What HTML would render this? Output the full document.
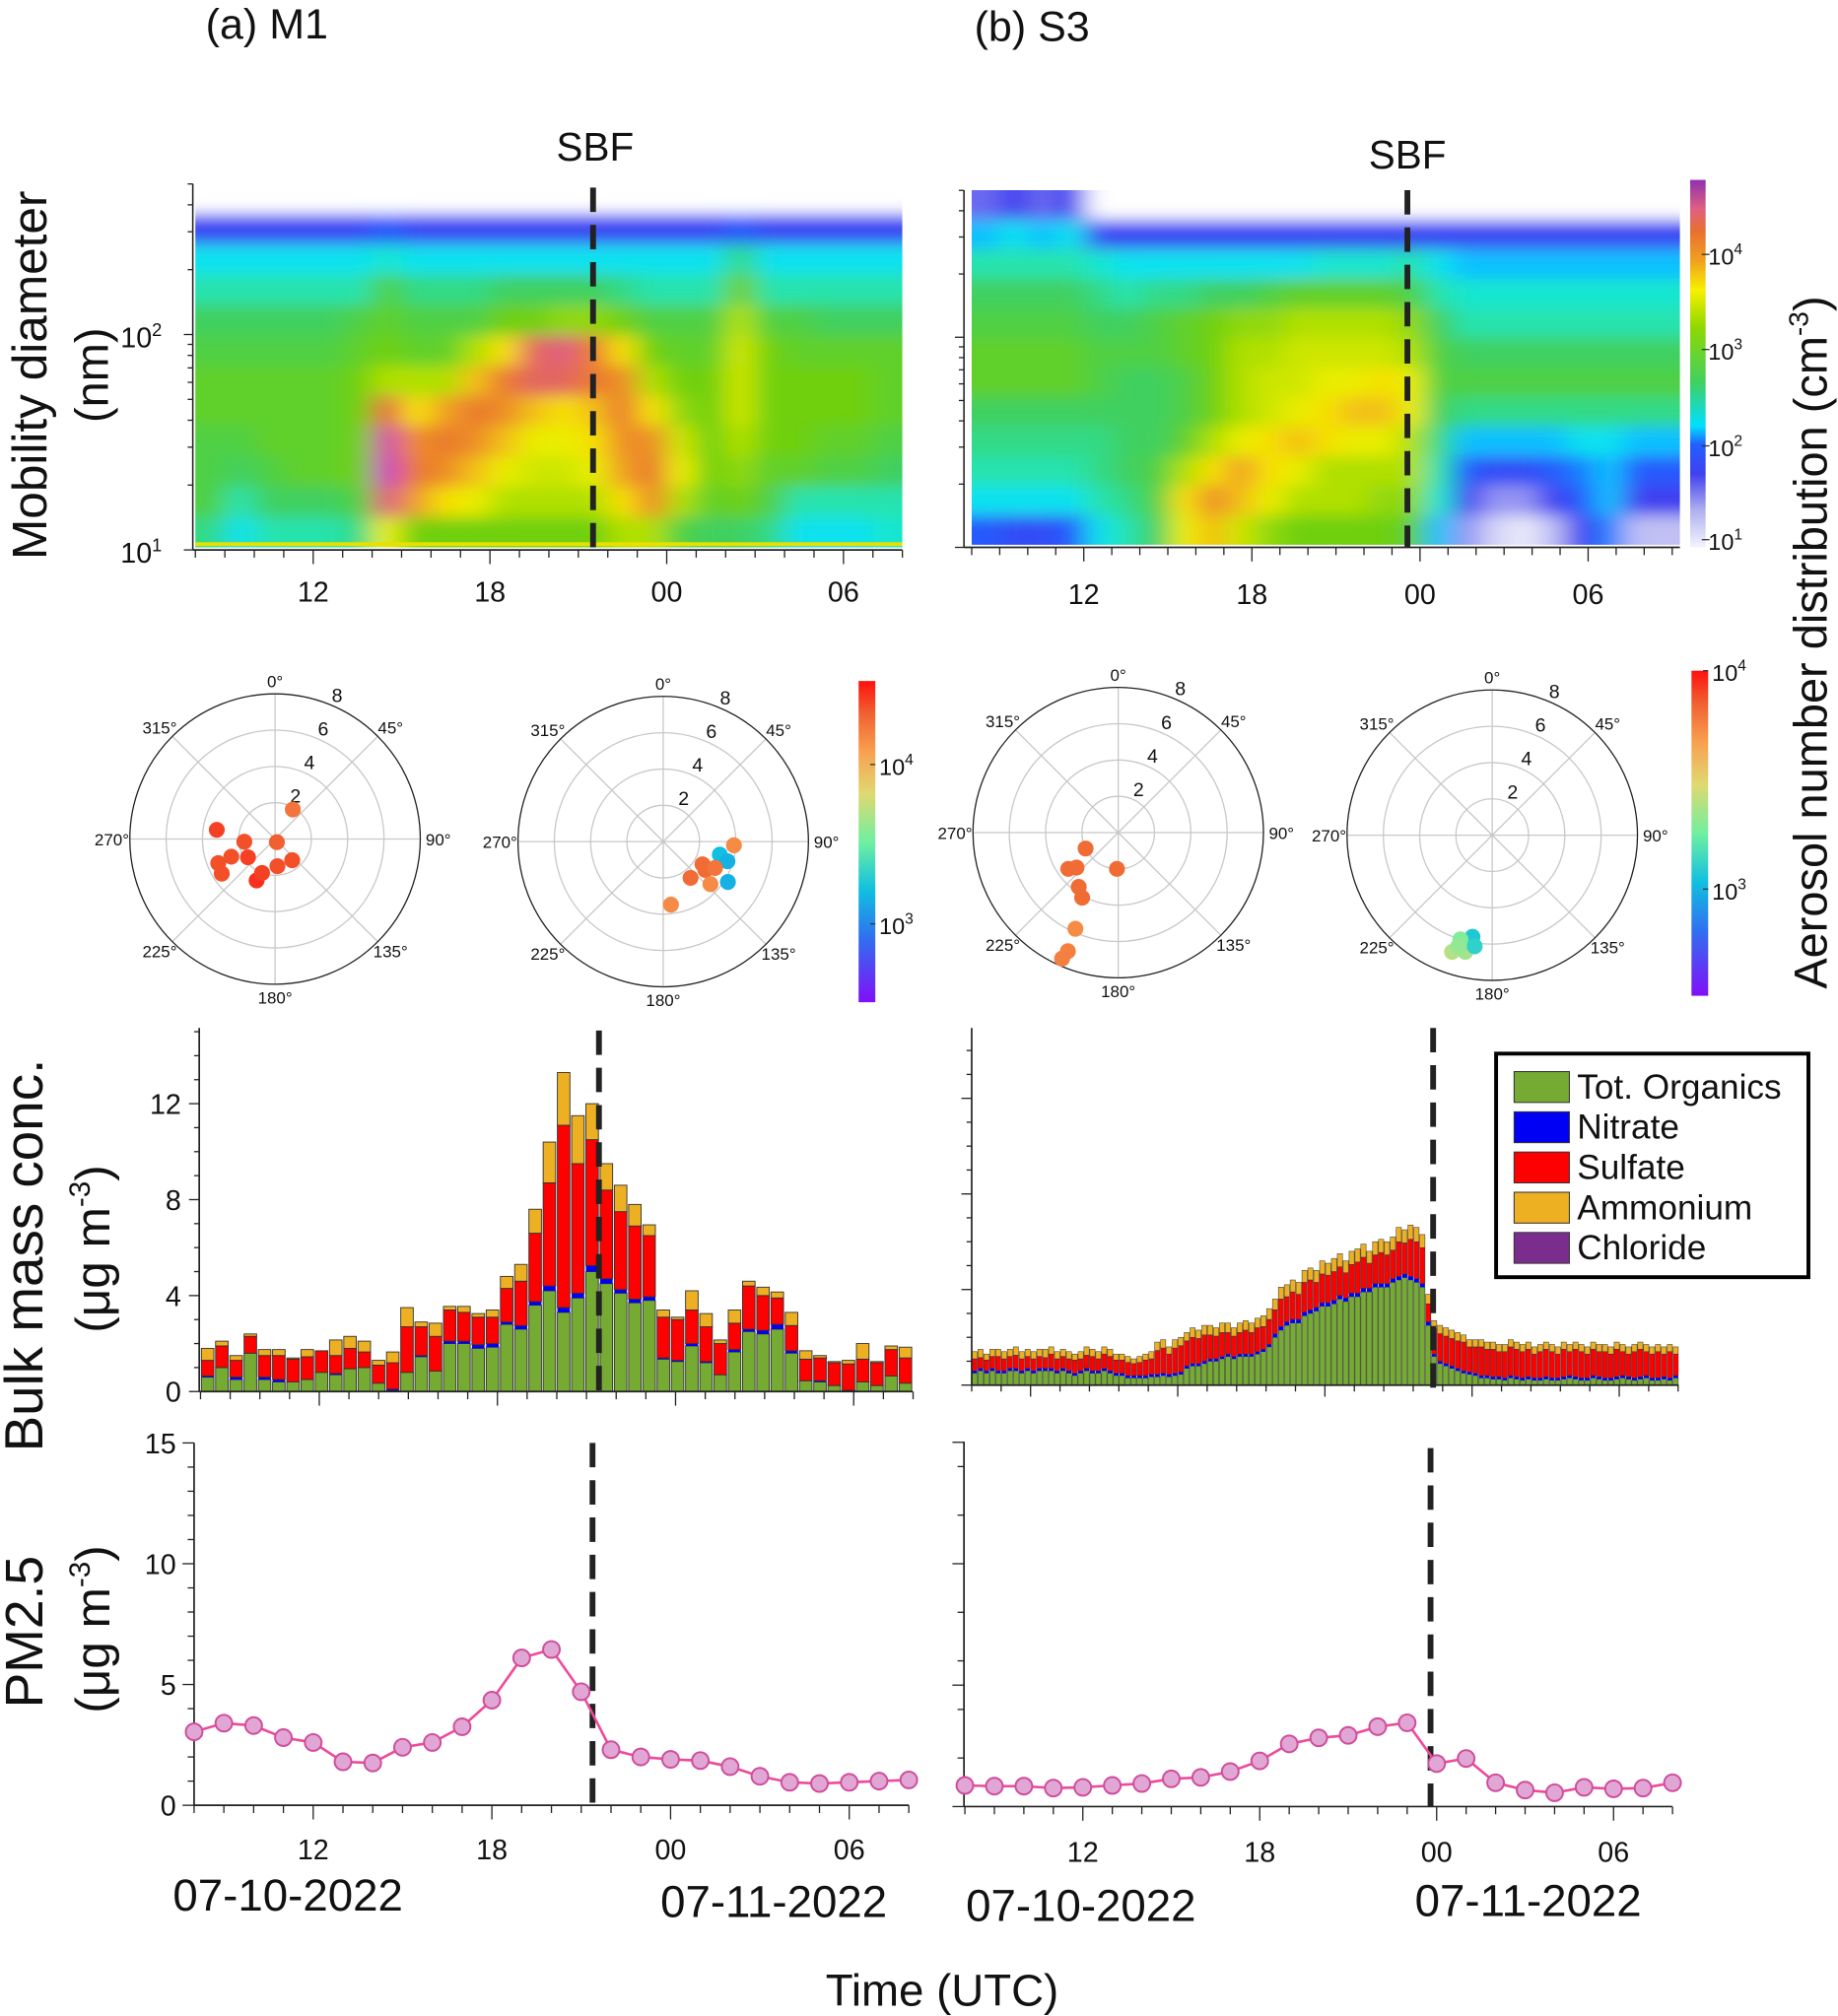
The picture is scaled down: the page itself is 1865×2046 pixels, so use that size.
<!DOCTYPE html>
<html><head><meta charset="utf-8">
<style>
html,body{margin:0;padding:0;background:#fff;}
svg{display:block;font-family:"Liberation Sans",sans-serif;}
</style></head>
<body>
<svg id="fig" width="1865" height="2046" viewBox="0 0 1430 1569" preserveAspectRatio="none" xmlns="http://www.w3.org/2000/svg">
<defs>
<filter id="blur" x="-5%" y="-5%" width="110%" height="110%"><feGaussianBlur stdDeviation="10 6"/></filter>
<clipPath id="clipA"><rect x="152" y="143" width="550" height="283"/></clipPath>
<clipPath id="clipB"><rect x="756" y="148" width="551" height="276"/></clipPath>
<linearGradient id="cbarSize" x1="0" y1="1" x2="0" y2="0">
<stop offset="0" stop-color="#f4f4ff"/><stop offset="0.1" stop-color="#b0b0f0"/><stop offset="0.2" stop-color="#4040f0"/><stop offset="0.28" stop-color="#2060ff"/><stop offset="0.33" stop-color="#00e0ff"/><stop offset="0.45" stop-color="#40d060"/><stop offset="0.6" stop-color="#90d800"/><stop offset="0.7" stop-color="#f8f000"/><stop offset="0.78" stop-color="#f0a020"/><stop offset="0.86" stop-color="#e87030"/><stop offset="0.92" stop-color="#e06080"/><stop offset="1" stop-color="#9030b0"/>
</linearGradient>
<linearGradient id="cbarRain" x1="0" y1="1" x2="0" y2="0">
<stop offset="0" stop-color="#8010f8"/><stop offset="0.2" stop-color="#3070f0"/><stop offset="0.35" stop-color="#10c0e0"/><stop offset="0.5" stop-color="#70f0a0"/><stop offset="0.65" stop-color="#e0d870"/><stop offset="0.78" stop-color="#f8a050"/><stop offset="0.9" stop-color="#f06030"/><stop offset="1" stop-color="#ff1010"/>
</linearGradient>
</defs>
<g id="root"></g>
</svg>
<script>
// ---------------- DATA ----------------
const heatA = [
[1.0,1.0,1.0,1.0,1.0,1.0,1.0,1.0,1.0,1.0,1.0,1.0,1.0,1.0,1.0,1.0,1.0,1.0,1.0,1.0,1.0,1.0,1.0,1.0],
[1.65,1.65,1.65,1.65,1.65,1.65,1.8,1.65,1.65,1.65,1.65,1.65,1.65,1.65,1.65,1.65,1.65,1.65,1.8,1.65,1.65,1.65,1.65,1.65],
[2.1,2.1,2.1,2.1,2.1,2.1,2.2,2.1,2.1,2.1,2.1,2.1,2.1,2.1,2.1,2.1,2.1,2.1,2.4,2.1,2.1,2.1,2.1,2.1],
[2.3,2.3,2.3,2.3,2.3,2.3,2.6,2.4,2.4,2.4,2.5,2.5,2.5,2.5,2.4,2.3,2.3,2.3,2.8,2.3,2.3,2.3,2.3,2.3],
[2.5,2.5,2.5,2.5,2.5,2.6,2.7,2.6,2.6,2.6,2.8,2.8,2.9,2.9,2.8,2.6,2.6,2.6,3.0,2.6,2.6,2.5,2.5,2.5],
[2.6,2.6,2.6,2.6,2.6,2.7,2.8,2.7,2.7,3.0,3.3,3.9,4.0,3.7,3.3,2.8,2.7,2.7,3.1,2.8,2.7,2.7,2.7,2.7],
[2.7,2.7,2.7,2.7,2.7,2.8,3.0,3.0,3.0,3.4,3.7,3.9,3.9,3.7,3.6,3.0,2.8,2.8,3.1,2.8,2.8,2.8,2.8,2.7],
[2.7,2.7,2.7,2.7,2.7,2.8,3.8,3.3,3.5,3.7,3.6,3.4,3.3,3.4,3.7,3.3,2.9,2.8,3.1,2.8,2.8,2.8,2.8,2.7],
[2.6,2.6,2.7,2.7,2.7,2.8,4.2,3.6,3.7,3.6,3.4,3.2,3.2,3.3,3.6,3.6,3.1,2.8,3.0,2.8,2.8,2.7,2.7,2.6],
[2.6,2.5,2.6,2.7,2.7,2.8,4.3,3.7,3.6,3.4,3.2,3.1,3.1,3.2,3.5,3.7,3.2,2.8,2.9,2.7,2.7,2.6,2.6,2.5],
[2.6,2.3,2.5,2.5,2.5,2.6,4.0,3.5,3.3,3.2,3.0,3.0,3.0,3.0,3.3,3.6,3.0,2.7,2.8,2.6,2.3,2.3,2.3,2.3],
[2.4,2.1,2.3,2.3,2.3,2.4,3.2,2.8,2.8,2.8,2.8,2.8,2.8,2.8,3.0,3.0,2.6,2.5,2.5,2.4,2.1,2.1,2.1,2.2]
];
const heatB = [
[1.5,1.6,1.5,1.6,1.0,1.0,1.0,1.0,1.0,1.0,1.0,1.0,1.0,1.0,1.0,1.0,1.0,1.0,1.0,1.0,1.0,1.0,1.0,1.0,1.0],
[2.0,2.1,2.0,2.1,1.65,1.65,1.65,1.65,1.65,1.65,1.65,1.65,1.65,1.65,1.65,1.65,1.65,1.65,1.65,1.65,1.65,1.65,1.65,1.65,1.65],
[2.3,2.3,2.3,2.3,2.2,2.1,2.1,2.1,2.1,2.1,2.1,2.1,2.2,2.2,2.2,2.3,2.1,2.0,2.0,2.0,2.0,2.0,2.0,2.0,2.0],
[2.5,2.5,2.5,2.5,2.4,2.3,2.4,2.4,2.5,2.5,2.6,2.7,2.7,2.7,2.7,2.6,2.3,2.2,2.2,2.2,2.2,2.2,2.2,2.2,2.2],
[2.6,2.6,2.6,2.6,2.5,2.5,2.6,2.7,2.8,2.9,2.9,3.0,3.0,3.0,3.0,2.9,2.5,2.3,2.3,2.3,2.3,2.3,2.3,2.3,2.3],
[2.7,2.7,2.7,2.7,2.6,2.6,2.6,2.7,2.8,3.0,3.0,3.1,3.1,3.1,3.1,3.0,2.6,2.5,2.5,2.5,2.5,2.5,2.5,2.5,2.5],
[2.7,2.7,2.7,2.7,2.6,2.5,2.5,2.6,2.8,3.0,3.1,3.1,3.2,3.2,3.3,3.2,2.6,2.6,2.6,2.6,2.6,2.6,2.6,2.6,2.6],
[2.5,2.5,2.5,2.5,2.5,2.5,2.5,2.6,2.8,3.0,3.1,3.2,3.3,3.4,3.4,3.2,2.5,2.4,2.4,2.4,2.4,2.4,2.4,2.4,2.4],
[2.4,2.4,2.4,2.4,2.4,2.5,2.5,2.7,3.0,3.2,3.3,3.4,3.3,3.2,3.2,3.0,2.4,2.0,2.0,2.0,2.0,2.1,2.1,2.0,2.0],
[2.3,2.3,2.3,2.3,2.4,2.5,2.6,3.0,3.3,3.5,3.3,3.2,3.0,3.0,3.0,3.0,2.3,1.8,1.7,1.7,1.8,1.9,2.0,1.8,1.8],
[2.1,2.1,2.1,2.1,2.3,2.4,2.6,3.3,3.6,3.4,3.2,3.0,3.0,3.0,2.9,2.9,2.2,1.6,1.4,1.4,1.6,1.8,2.0,1.6,1.6],
[1.8,1.7,1.7,1.8,2.1,2.3,2.5,3.2,3.4,3.1,2.9,2.8,2.8,2.8,2.8,2.7,2.0,1.4,1.2,1.1,1.3,1.6,1.9,1.3,1.3]
];
const polar1Dir = [31,150,265,279,247,248,236,237,204,201,175,141];
const polar1Spd = [1.9,0.2,1.7,3.25,3.4,2.6,1.8,3.5,2.5,2.0,1.5,1.5];
const polar1Val = [4.05,4.15,4.2,4.25,4.2,4.2,4.25,4.2,4.3,4.25,4.2,4.2];
const polar2Dir = [93,103,107,122,124,143,120,117,173,132];
const polar2Spd = [3.9,3.2,3.7,4.2,2.8,2.5,2.5,3.2,3.5,3.5];
const polar2Val = [3.95,2.95,2.9,2.9,4.1,4.1,4.1,4.05,3.95,3.95];
const polar3Dir = [244,230,216,209,204,203,204,182,234];
const polar3Spd = [2.0,3.0,3.7,4.1,5.8,7.1,7.6,2.0,3.4];
const polar3Val = [4.1,4.1,4.1,4.1,3.95,4.0,4.0,4.1,4.1];
const polar4Dir = [191,197,199,193,197,189];
const polar4Spd = [5.7,6.0,6.8,6.6,6.4,6.2];
const polar4Val = [3.0,3.3,3.45,3.4,3.35,3.05];
const orgA = [.6,1.0,.5,1.6,.5,.4,.4,.5,.8,.7,.95,1.0,.35,.05,.8,1.45,.85,2.0,2.0,1.8,1.85,2.8,2.6,3.6,4.2,3.3,3.9,5.0,4.5,4.1,3.7,3.8,1.35,1.25,1.9,1.2,.7,1.65,2.5,2.4,2.6,1.6,.45,.4,.25,.05,.4,.25,.65,.35];
const nitA = [.05,0,.1,0,.1,.1,0,0,0,.05,0,0,0,.05,0,.05,0,.1,.1,.15,.15,.1,.15,.15,.2,.2,.2,.25,.2,.15,.15,.15,.05,.05,.1,.05,0,.1,.1,.15,.2,.1,0,.05,0,0,0,0,0,0];
const sulA = [.65,.9,.7,.7,.9,1.0,.95,.95,.9,.75,.85,.65,.75,1.1,1.9,1.2,1.45,1.3,1.2,1.15,1.1,1.4,1.85,2.85,4.3,7.6,5.4,5.25,3.7,3.25,3.05,2.55,1.7,1.7,1.4,1.45,1.3,1.1,1.8,1.45,1.1,1.05,.9,.95,.95,1.1,.95,.95,1.1,1.05];
const ammA = [.5,.2,.2,.1,.25,.25,.05,.3,0,.65,.5,.45,.2,.45,.8,.2,.55,.15,.25,.15,.3,.5,.7,1.0,1.7,2.2,2.0,1.5,1.1,1.1,.9,.45,.3,.1,.8,.55,.15,.55,.2,.35,.25,.55,.35,.1,.05,.15,.65,.05,.15,.45];
const totB = [1.4,1.5,1.3,1.5,1.5,1.4,1.5,1.6,1.4,1.5,1.4,1.5,1.5,1.6,1.4,1.5,1.4,1.3,1.4,1.6,1.5,1.4,1.6,1.5,1.3,1.3,
1.2,1.1,1.2,1.3,1.4,1.8,1.9,1.6,1.9,2.0,2.2,2.4,2.3,2.5,2.5,2.4,2.6,2.6,2.4,2.6,2.7,2.6,2.8,2.9,3.2,
3.6,4.1,4.2,4.4,4.3,4.8,4.9,4.8,5.2,5.1,5.3,5.5,5.2,5.6,5.7,5.9,5.6,6.0,6.1,6.0,6.2,6.6,6.5,6.7,6.6,6.3,
3.8,2.7,2.5,2.4,2.3,2.2,2.1,1.9,1.9,
1.9,1.8,1.8,1.7,1.7,1.9,1.8,1.7,1.8,1.6,1.7,1.8,1.7,1.6,1.8,1.7,1.8,1.7,1.6,1.8,1.7,1.7,1.6,1.8,1.7,1.6,1.7,1.8,1.7,1.6,1.7,1.6,1.7,1.6];
const orgB = [.5,.6,.5,.6,.5,.5,.6,.6,.5,.6,.5,.6,.6,.6,.5,.6,.5,.4,.5,.6,.5,.5,.6,.5,.4,.4,
.3,.3,.3,.3,.35,.35,.4,.35,.4,.45,.7,.8,.8,.9,1.0,1.0,1.1,1.2,1.1,1.2,1.2,1.2,1.3,1.4,1.6,
2.0,2.3,2.5,2.6,2.6,2.9,3.0,3.1,3.3,3.3,3.4,3.6,3.5,3.7,3.7,3.9,3.9,4.1,4.1,4.1,4.3,4.4,4.5,4.4,4.3,4.1,
2.5,1.2,.9,.8,.7,.6,.5,.45,.4,
.3,.3,.25,.25,.2,.3,.25,.2,.25,.2,.2,.25,.2,.2,.25,.3,.25,.2,.2,.3,.25,.2,.2,.25,.3,.25,.2,.25,.3,.2,.2,.25,.2,.3];
const nitB = [.1,.1,.1,.1,.1,.1,.1,.1,.1,.1,.1,.1,.1,.1,.1,.1,.1,.1,.1,.1,.1,.1,.1,.1,.1,.1,
.1,.1,.1,.1,.1,.1,.1,.1,.1,.1,.1,.1,.1,.1,.1,.1,.1,.1,.1,.1,.1,.1,.1,.1,.1,
.15,.15,.15,.15,.15,.15,.15,.15,.15,.15,.15,.15,.15,.15,.15,.15,.15,.15,.15,.15,.15,.15,.15,.15,.15,.15,
.15,.1,.1,.1,.1,.1,.1,.1,.1,
.1,.1,.1,.1,.1,.1,.1,.1,.1,.1,.1,.1,.1,.1,.1,.1,.1,.1,.1,.1,.1,.1,.1,.1,.1,.1,.1,.1,.1,.1,.1,.1,.1,.1];
const ammB = [.3,.35,.25,.3,.3,.3,.3,.35,.3,.3,.3,.3,.35,.3,.3,.3,.3,.25,.3,.35,.3,.3,.3,.3,.25,.25,
.25,.2,.25,.25,.3,.35,.35,.3,.35,.35,.35,.4,.35,.4,.4,.35,.4,.4,.35,.4,.4,.4,.4,.45,.45,
.45,.5,.5,.5,.5,.5,.5,.5,.55,.5,.55,.55,.5,.55,.55,.55,.5,.55,.55,.55,.55,.6,.55,.6,.6,.55,
.4,.35,.35,.35,.35,.35,.3,.3,.3,
.3,.3,.3,.3,.3,.3,.3,.3,.3,.3,.3,.3,.3,.3,.3,.3,.3,.3,.3,.3,.3,.3,.3,.3,.3,.3,.3,.3,.3,.3,.3,.3,.3,.3];
const pmHoursA = [8,9,10,11,12,13,14,15,16,17,18,19,20,21,22,23,24,25,26,27,28,29,30,31,32];
const pmA = [3.04,3.4,3.3,2.8,2.6,1.8,1.75,2.4,2.6,3.25,4.35,6.1,6.45,4.7,2.3,2.0,1.9,1.85,1.6,1.2,.95,.9,.95,1.0,1.05];
const pmHoursB = [8,9,10,11,12,13,14,15,16,17,18,19,20,21,22,23,24,25,26,27,28,29,30,31,32];
const pmB = [.87,.84,.84,.76,.79,.87,.95,1.14,1.2,1.44,1.88,2.58,2.83,2.93,3.29,3.45,1.77,1.98,.98,.68,.57,.79,.73,.76,.98];
const hourTicks = [12,18,24,30];
const hourTickLabels = ["12","18","00","06"];
const sbfHourA = 21.5, sbfHourB = 23.55;
const legendNames = ["Tot. Organics","Nitrate","Sulfate","Ammonium","Chloride"];
const legendColors = ["#76ab33","#0000f5","#ff0000","#ecb022","#7b2d8e"];

// ---------------- HELPERS ----------------
const NS="http://www.w3.org/2000/svg";
const root=document.getElementById('root');
function mk(tag,attrs,parent){const e=document.createElementNS(NS,tag);for(const k in attrs)e.setAttribute(k,attrs[k]);(parent||root).appendChild(e);return e;}
function txt(s,x,y,size,anchor,parent,extra){const t=mk('text',Object.assign({x:x,y:y,'font-size':size,'text-anchor':anchor||'middle',fill:'#111'},extra||{}),parent);t.textContent=s;return t;}
function lerpC(a,b,t){const pa=[1,3,5].map(i=>parseInt(a.substr(i,2),16)),pb=[1,3,5].map(i=>parseInt(b.substr(i,2),16));return 'rgb('+pa.map((v,i)=>Math.round(v+(pb[i]-v)*t)).join(',')+')';}
function cmap(stops,v){if(v<=stops[0][0])return stops[0][1];for(let i=1;i<stops.length;i++){if(v<=stops[i][0]){const t=(v-stops[i-1][0])/(stops[i][0]-stops[i-1][0]);return lerpC(stops[i-1][1],stops[i][1],t);}}return stops[stops.length-1][1];}
const sizeStops=[[1.0,'#ffffff'],[1.3,'#c0c0f4'],[1.6,'#4040f0'],[1.85,'#2060ff'],[2.05,'#00e0ff'],[2.25,'#20e8c0'],[2.5,'#40d060'],[2.8,'#70d010'],[3.0,'#b0e000'],[3.25,'#f8f000'],[3.5,'#f0a020'],[3.75,'#e87030'],[4.0,'#e06080'],[4.3,'#d040c0'],[4.7,'#9030b0']];
const rainStops=[[2.4,'#8010f8'],[2.7,'#3070f0'],[2.95,'#10c0e0'],[3.25,'#70f0a0'],[3.55,'#d8d878'],[3.85,'#f8a050'],[4.15,'#f06030'],[4.4,'#ff1010']];

// ---------------- HEATMAPS ----------------
function heatmap(M,x0,x1,y0,y1,clip,name){
  const g=mk('g',{'clip-path':'url(#'+clip+')'});
  
  
  const inner=mk('g',{filter:'url(#blur)'},g);
  const nr=M.length,nc=M[0].length,cw=(x1-x0)/nc,rh=(y1-y0)/nr;
  for(let r=0;r<nr;r++)for(let c=0;c<nc;c++){
    let x=x0+c*cw,w=cw+0.6,y=y0+r*rh,h=rh+0.6;
    if(c===0){x-=25;w+=25;} if(c===nc-1)w+=25;
    if(r===0){y-=25;h+=25;} if(r===nr-1)h+=25;
    const cell=mk('rect',{x:x,y:y,width:w,height:h,fill:cmap(sizeStops,M[r][c])},inner);
    
    
  }
  return g;
}
heatmap(heatA,152,702,143,426,'clipA','size-distribution-m1');
heatmap(heatB,756,1307,148,424,'clipB','size-distribution-s3');
mk('rect',{x:152,y:422,width:550,height:3,fill:'#e8e000'});

function logAxis(x,yTop,yBot,name,labels){
  const g=mk('g',{});
  
  
  mk('line',{x1:x,y1:yTop,x2:x,y2:yBot,stroke:'#222','stroke-width':1.2},g);
  const dec=(yBot-yTop)/1.7;
  for(let d=1;d<=2;d++)for(let m=1;m<=9;m++){
    const lv=d+Math.log10(m); if(lv>2.7)break;
    const y=yBot-(lv-1)*dec;
    mk('line',{x1:x-(m===1?7:4),y1:y,x2:x,y2:y,stroke:'#222','stroke-width':1},g);
  }
  if(labels){
    const t1=txt('10',x-24,yBot+10,22,'end',g);const s1=mk('tspan',{dy:-9,'font-size':14},t1);s1.textContent='1';
    const t2=txt('10',x-24,yBot-dec+10,22,'end',g);const s2=mk('tspan',{dy:-9,'font-size':14},t2);s2.textContent='2';
  }
}
logAxis(150,143,428,'y-axis-diameter-m1',true);
logAxis(750,148,426,'y-axis-diameter-s3',false);

function timeAxis(xf,x0,x1,y,hStart,hEnd,name,labelY,labelSize){
  const g=mk('g',{});
  
  
  mk('line',{x1:x0,y1:y,x2:x1,y2:y,stroke:'#222','stroke-width':1.3},g);
  for(let h=Math.ceil(hStart);h<=hEnd;h++){
    const major=hourTicks.indexOf(h)>=0;
    mk('line',{x1:xf(h),y1:y,x2:xf(h),y2:y+(major?11:6),stroke:'#222','stroke-width':1},g);
  }
  if(labelY) hourTicks.forEach((h,i)=>txt(hourTickLabels[i],xf(h),labelY,labelSize||22,'middle',g));
}
const hxA=h=>152+(h-8)*22.92, hxB=h=>756+(h-8)*21.8;
timeAxis(hxA,150,702,428,8,32,'x-axis-time-m1-size',468);
timeAxis(hxB,750,1307,426,8,33.2,'x-axis-time-s3-size',470);

function sbf(x,y0,y1,name){const l=mk('line',{x1:x,y1:y0,x2:x,y2:y1,stroke:'#222','stroke-width':4.5,'stroke-dasharray':'19 10'});}
sbf(hxA(sbfHourA),146,428,'sbf-line-m1-size');
sbf(hxB(sbfHourB),148,426,'sbf-line-s3-size');
txt('SBF',463,125,31,'middle');
txt('SBF',1095,131,31,'middle');

(function(){const g=mk('g',{});
 mk('rect',{x:1315,y:140,width:12,height:286,fill:'url(#cbarSize)'},g);
 [['4',198],['3',272],['2',347],['1',420]].forEach(p=>{mk('line',{x1:1324,y1:p[1],x2:1330,y2:p[1],stroke:'#333'},g);const t=txt('10',1329,p[1]+8,18,'start',g);const s=mk('tspan',{dy:-8,'font-size':12},t);s.textContent=p[0];});
})();

// ---------------- POLAR ----------------
function polar(cx,cy,dirs,spds,vals,name){
  const g=mk('g',{});
  const R=113,k=R/8;
  [2,4,6].forEach(r=>mk('circle',{cx:cx,cy:cy,r:r*k,fill:'none',stroke:'#c8c8c8','stroke-width':1},g));
  for(let a=0;a<360;a+=45){const rad=a*Math.PI/180;mk('line',{x1:cx,y1:cy,x2:cx+R*Math.sin(rad),y2:cy-R*Math.cos(rad),stroke:'#c8c8c8','stroke-width':1},g);
    const lx=cx+(R+14)*Math.sin(rad),ly=cy-(R+10)*Math.cos(rad)+5;txt(a+'°',lx,ly,13,'middle',g);}
  mk('circle',{cx:cx,cy:cy,r:R,fill:'none',stroke:'#222','stroke-width':1},g);
  [2,4,6,8].forEach(r=>{const rad=22.5*Math.PI/180;txt(String(r),cx+(r*k+8)*Math.sin(rad)+2,cy-(r*k+8)*Math.cos(rad)+5,15,'middle',g);});
  dirs.forEach((d,i)=>{const rad=d*Math.PI/180;const p=mk('circle',{cx:cx+spds[i]*k*Math.sin(rad),cy:cy-spds[i]*k*Math.cos(rad),r:6.2,fill:cmap(rainStops,vals[i])},g);
    });
}
polar(214,653,polar1Dir,polar1Spd,polar1Val,'polar-m1-pre-sbf');
polar(516,655,polar2Dir,polar2Spd,polar2Val,'polar-m1-post-sbf');
polar(870,648,polar3Dir,polar3Spd,polar3Val,'polar-s3-pre-sbf');
polar(1161,650,polar4Dir,polar4Spd,polar4Val,'polar-s3-post-sbf');
function rainBar(x,y0,y1,labels,name){const g=mk('g',{});
 mk('rect',{x:x,y:y0,width:13,height:y1-y0,fill:'url(#cbarRain)'},g);
 labels.forEach(p=>{mk('line',{x1:x+9,y1:p[1],x2:x+13,y2:p[1],stroke:'#333'},g);const t=txt('10',x+16,p[1]+8,18,'start',g);const s=mk('tspan',{dy:-8,'font-size':12},t);s.textContent=p[0];});}
rainBar(668,530,780,[['4',595],['3',719]],'colorbar-polar-m1');
rainBar(1316,522,775,[['4',522],['3',692]],'colorbar-polar-s3');

// ---------------- BULK MASS BARS ----------------
function stackBars(org,nit,sul,amm,x0,x1,y0,unit,name,outline){
  const g=mk('g',{});
  const n=org.length,w=(x1-x0)/n;
  for(let i=0;i<n;i++){
    let base=0;const segs=[org[i],nit[i],sul[i],amm[i]];
    segs.forEach((v,j)=>{if(v<=0)return;const r=mk('rect',{x:x0+i*w+w*0.06,y:y0-(base+v)*unit,width:w*0.88,height:v*unit,fill:legendColors[j],stroke:j===1?'none':'#333','stroke-width':outline},g);
      base+=v;});
  }
}
stackBars(orgA,nitA,sulA,ammA,156,710,1083,18.67,'bulk-bars-m1',0.7);
const sulB=totB.map((t,i)=>Math.max(0,t-orgB[i]-nitB[i]-ammB[i]));
stackBars(orgB,nitB,sulB,ammB,756,1306,1078,18.6,'bulk-bars-s3',0.4);

function linAxis(x,yBot,yTop,unit,maxV,major,labels,name){
  const g=mk('g',{});
  mk('line',{x1:x,y1:yTop,x2:x,y2:yBot,stroke:'#222','stroke-width':1.3},g);
  for(let v=0;v<=maxV+1e-6;v++){const y=yBot-v*unit;const M=v%major===0;mk('line',{x1:x-(M?8:4),y1:y,x2:x,y2:y,stroke:'#222'},g);
    if(labels&&M)txt(String(v),x-14,y+8,22,'end',g);}
}
linAxis(155,1083,800,18.67,15,4,true,'y-axis-bulk-m1');
linAxis(756,1078,800,18.6,14,4,false,'y-axis-bulk-s3');
const bxA=h=>156+(h-8)*23.1;
timeAxis(bxA,155,710,1083,8,32,'x-axis-time-m1-bulk',null);
(function(){const g=mk('g',{});
 mk('line',{x1:756,y1:1078,x2:1306,y2:1078,stroke:'#222','stroke-width':1.3},g);
 for(let i=0;i<=24;i++){const x=756+i*22.9;mk('line',{x1:x,y1:1078,x2:x,y2:1078+(i%5===2?9:5),stroke:'#222'},g);}})();
sbf(466,802,1083,'sbf-line-m1-bulk');
sbf(1115,800,1080,'sbf-line-s3-bulk');

(function(){const g=mk('g',{});
 mk('rect',{x:1164,y:820,width:243,height:174,fill:'#fff',stroke:'#000','stroke-width':3},g);
 legendNames.forEach((n,i)=>{const y=846+i*31.3;const e=mk('g',{},g);
   mk('rect',{x:1178,y:y-12,width:43,height:24,fill:legendColors[i],stroke:'#333','stroke-width':0.8},e);txt(n,1227,y+9,27,'start',e);});})();

// ---------------- PM2.5 ----------------
const pxA=h=>151+(h-8)*23.17, pxB=h=>750.7+(h-8)*22.94;
function pmPlot(hours,vals,xf,yBot,unit,name){
  const g=mk('g',{});
  mk('polyline',{points:hours.map((h,i)=>xf(h)+','+(yBot-vals[i]*unit)).join(' '),fill:'none',stroke:'#ee4a9a','stroke-width':2},g);
  hours.forEach((h,i)=>{const c=mk('circle',{cx:xf(h),cy:yBot-vals[i]*unit,r:6.5,fill:'#e0a6d4',stroke:'#d04c9c','stroke-width':1.5},g);});
}
function pmYAxis(x,yBot,yTop,unit,labels,name){
  const g=mk('g',{});
  mk('line',{x1:x,y1:yTop,x2:x,y2:yBot,stroke:'#222','stroke-width':1.3},g);
  for(let v=0;v<=15;v++){const y=yBot-v*unit;const M=v%5===0;if(!labels&&!M&&v%2)continue;mk('line',{x1:x-(M?9:5),y1:y,x2:x,y2:y,stroke:'#222'},g);if(labels&&M)txt(String(v),x-14,y+8,22,'end',g);}
}
pmYAxis(151,1405,1123,18.8,true,'y-axis-pm25-m1');
pmYAxis(750,1406,1122,18.9,false,'y-axis-pm25-s3');
timeAxis(pxA,151,707,1405,8,32,'x-axis-time-m1-pm',1447);
timeAxis(pxB,750,1301,1406,8,32,'x-axis-time-s3-pm',1449);
sbf(461,1123,1405,'sbf-line-m1-pm');
sbf(1113,1127,1406,'sbf-line-s3-pm');
pmPlot(pmHoursA,pmA,pxA,1405,18.8,'pm25-series-m1');
pmPlot(pmHoursB,pmB,pxB,1406,18.9,'pm25-series-s3');

// ---------------- TITLES ----------------
txt('(a) M1',160,30,33,'start');
txt('(b) S3',758,32,33,'start');
function vtext(s,x,y,size,name,sup){const t=mk('text',{x:0,y:0,'font-size':size,'text-anchor':'middle',fill:'#111',transform:'translate('+x+','+y+') rotate(-90)'});t.textContent=s;
 if(sup){const a=mk('tspan',{dy:-size*0.4,'font-size':size*0.6},t);a.textContent=sup[0];const b=mk('tspan',{dy:size*0.4},t);b.textContent=sup[1];}
 return t;}
vtext('Mobility diameter',36,292,38,'y-axis-title-diameter');
vtext('(nm)',84,292,36,'y-axis-title-diameter-unit');
vtext('Bulk mass conc.',33,977,42,'y-axis-title-bulk');
vtext('(μg m',85,972,38,'y-axis-title-pm25-unit-bulk',['-3',')']);
vtext('PM2.5',33,1270,41,'y-axis-title-pm25');
vtext('(μg m',85,1268,38,'y-axis-title-pm25-unit',['-3',')']);
vtext('Aerosol number distribution (cm',1421,500,36,'y-axis-title-number',['-3',')']);
txt('07-10-2022',224,1487,35,'middle');
txt('07-11-2022',602,1492,35,'middle');
txt('07-10-2022',841,1495,35,'middle');
txt('07-11-2022',1189,1491,35,'middle');
txt('Time (UTC)',733,1561,35,'middle');
</script>
</body></html>
